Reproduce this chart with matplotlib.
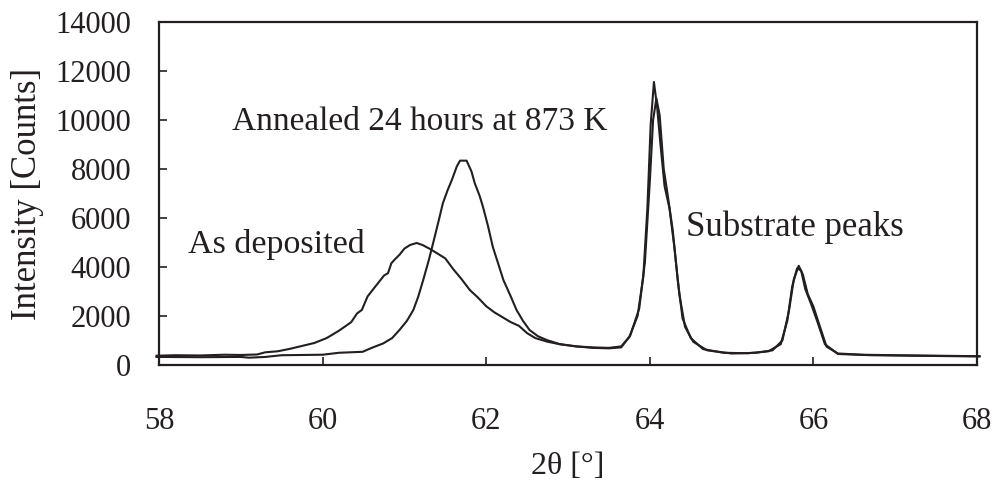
import matplotlib
matplotlib.use("Agg")
import matplotlib.pyplot as plt

# XRD scans
dep_x = [57.97, 58.2, 58.5, 58.8, 59.0, 59.2, 59.3, 59.45, 59.6, 59.75, 59.9, 60.05,
         60.2, 60.35, 60.42, 60.48, 60.55, 60.62, 60.68, 60.75, 60.8, 60.84, 60.88,
         60.94, 61.0, 61.07, 61.15, 61.22, 61.3, 61.4, 61.5, 61.6, 61.7, 61.8, 61.9,
         62.0, 62.1, 62.2, 62.3, 62.4, 62.45, 62.5, 62.6, 62.75, 62.9, 63.1, 63.3,
         63.5, 63.65, 63.75, 63.85, 63.92, 63.97, 64.01, 64.05, 64.09, 64.13, 64.18,
         64.24, 64.3, 64.36, 64.43, 64.53, 64.7, 65.0, 65.3, 65.5, 65.62, 65.7, 65.76,
         65.82, 65.87, 65.93, 66.0, 66.08, 66.16, 66.3, 66.6, 67.0, 67.5, 68.03]
dep_y = [380, 400, 390, 420, 410, 430, 520, 560, 660, 780, 900, 1100,
         1400, 1750, 2100, 2250, 2800, 3100, 3350, 3650, 3750, 4150, 4300,
         4500, 4750, 4900, 4980, 4900, 4760, 4560, 4350, 3900, 3500, 3060, 2750,
         2400, 2150, 1950, 1750, 1600, 1450, 1300, 1100, 950, 850, 760, 720,
         700, 760, 1150, 2000, 3600, 6400, 9800, 11550, 10500, 9000, 7300,
         6400, 4800, 2900, 1560, 950, 600, 470, 500, 600, 1000, 2200, 3500,
         4050, 3700, 2900, 2380, 1560, 750, 470, 420, 400, 380, 360]

ann_x = [57.97, 58.5, 59.0, 59.1, 59.3, 59.5, 60.0, 60.2, 60.49, 60.6, 60.74, 60.85,
         60.94, 61.03, 61.11, 61.17, 61.23, 61.3, 61.35, 61.42, 61.47, 61.53, 61.58,
         61.64, 61.68, 61.76, 61.82, 61.86, 61.92, 61.96, 62.02, 62.08, 62.15, 62.21,
         62.3, 62.37, 62.45, 62.53, 62.63, 62.74, 62.9, 63.1, 63.3, 63.5, 63.65,
         63.76, 63.87, 63.94, 64.0, 64.04, 64.08, 64.12, 64.17, 64.22, 64.28, 64.34,
         64.4, 64.5, 64.65, 64.9, 65.2, 65.45, 65.6, 65.68, 65.74, 65.8, 65.85, 65.9,
         65.97, 66.05, 66.14, 66.3, 66.7, 67.2, 68.03]
ann_y = [330, 320, 330, 300, 330, 400, 420, 500, 540, 700, 880, 1100,
         1430, 1800, 2250, 2800, 3470, 4300, 4960, 5900, 6600, 7150, 7550,
         8100, 8340, 8340, 7900, 7420, 6900, 6460, 5700, 4830, 4100, 3470,
         2800, 2250, 1800, 1430, 1180, 1020, 850, 760, 700, 680, 720,
         1200, 2300, 4200, 7500, 10000, 10880, 10200, 8000, 6900, 5500, 3500,
         1900, 1100, 650, 500, 480, 560, 850, 1800, 3200, 3950, 3850, 3100,
         2500, 1750, 850, 450, 400, 380, 350]

x_ticks = [58, 60, 62, 64, 66, 68]
y_ticks = [0, 2000, 4000, 6000, 8000, 10000, 12000, 14000]

INK = "#231f20"
plt.rcParams["font.family"] = ["Liberation Serif", "DejaVu Serif"]

fig = plt.figure(figsize=(9.96, 4.88), dpi=100)
ax = fig.add_axes([0.1596, 0.252, 0.8214, 0.703])

ax.plot(dep_x, dep_y, color=INK, linewidth=1.5, clip_on=False)
ax.plot(ann_x, ann_y, color=INK, linewidth=1.5, clip_on=False)

ax.set_xlim(58, 68)
ax.set_ylim(0, 14000)
ax.set_xticks(x_ticks)
ax.set_yticks(y_ticks)
ax.tick_params(direction="in", length=6, width=1.2, colors=INK, labelsize=22)
ax.tick_params(axis="x", pad=30)
ax.tick_params(axis="y", pad=20)
for s in ax.spines.values():
    s.set_linewidth(1.6)
    s.set_color(INK)

ax.set_xlabel("2θ [°]", fontsize=23, color=INK, labelpad=12)
ax.set_ylabel("Intensity [Counts]", fontsize=25, color=INK, labelpad=8)

ax.text(58.89, 9920, "Annealed 24 hours at 873 K", fontsize=24, color=INK, va="center")
ax.text(58.35, 4900, "As deposited", fontsize=24.5, color=INK, va="center")
ax.text(64.44, 5630, "Substrate peaks", fontsize=25, color=INK, va="center")

fig.savefig("out.png", dpi=100)
